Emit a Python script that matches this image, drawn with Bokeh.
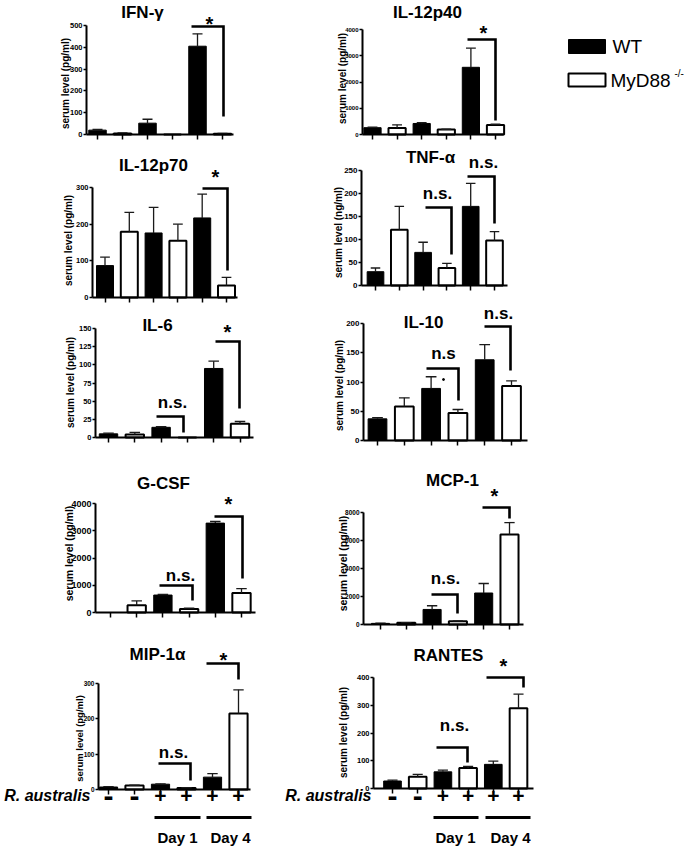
import math
from bokeh.plotting import figure
from bokeh.layouts import column, row
from bokeh.models import Range1d, LinearAxis, FixedTicker
from bokeh.core.properties import value
from bokeh.embed import file_html
from bokeh.resources import INLINE

FONT = "Liberation Sans"

# ---------------- data ----------------
groups = ["WT", "MyD88 -/-", "WT", "MyD88 -/-", "WT", "MyD88 -/-"]
r_australis = ["-", "-", "+", "+", "+", "+"]
day_labels = ["Day 1", "Day 4"]
bar_pos = [1, 2, 3, 4, 5, 6]

ifng_mean = [20, 5, 52, 0, 405, 3]
ifng_sem = [3, 2, 18, 0, 57, 2]
il12p40_mean = [260, 250, 420, 190, 2560, 360]
il12p40_sem = [20, 120, 30, 10, 730, 30]
il12p70_mean = [87, 179, 176, 155, 217, 33]
il12p70_sem = [23, 53, 70, 45, 65, 22]
tnfa_mean = [30, 121, 72, 38, 172, 98]
tnfa_sem = [8, 51, 22, 10, 50, 19]
il6_mean = [5, 4, 14, 0, 95, 19]
il6_sem = [1, 3, 1, 0, 10, 3]
il10_mean = [37, 58, 89, 47, 138, 93]
il10_sem = [2, 15, 20, 6, 26, 9]
gcsf_mean = [0, 265, 640, 130, 3280, 715]
gcsf_sem = [0, 160, 20, 30, 60, 160]
mcp1_mean = [80, 120, 1075, 235, 2250, 6420]
mcp1_sem = [10, 20, 265, 30, 680, 860]
mip1a_mean = [7, 11, 15, 4, 35, 215]
mip1a_sem = [1, 1, 1, 1, 10, 67]
rantes_mean = [27, 42, 60, 74, 87, 289]
rantes_sem = [3, 9, 6, 6, 12, 51]

# ---------------- layout (pixel positions on the page) ----------------
PANELS = [
    dict(title="IFN-γ", mean=ifng_mean, sem=ifng_sem, ymax=500, ystep=100,
         unit="serum level (pg/ml)", cell=(0, 0, 330, 140),
         axes=(86, 134, 25, 97, 25.0, 233), tfs=7.5, title_at=(142, 12),
         ylab=(65, 83, 10), marks=[("*", 209, 20, (191, 223, 26, 116))]),
    dict(title="IL-12p40", mean=il12p40_mean, sem=il12p40_sem, ymax=4000, ystep=1000,
         unit="serum level (pg/ml)", cell=(330, 0, 364, 140),
         axes=(362, 134, 29, 372, 24.6, 503), tfs=6, title_at=(427, 12),
         ylab=(342, 78, 10), marks=[("*", 483, 29, (467, 495, 39, 120))], legend=True),
    dict(title="IL-12p70", mean=il12p70_mean, sem=il12p70_sem, ymax=300, ystep=100,
         unit="serum level (pg/ml)", cell=(0, 140, 330, 163),
         axes=(92, 297, 187, 104.5, 24.3, 237), tfs=7.5, title_at=(153, 165),
         ylab=(68, 240, 10), marks=[("*", 215, 173, (202, 227, 188, 270))]),
    dict(title="TNF-α", mean=tnfa_mean, sem=tnfa_sem, ymax=250, ystep=50,
         unit="serum level (ng/ml)", cell=(330, 140, 364, 163),
         axes=(361, 285, 170, 375, 23.8, 507), tfs=8, title_at=(430, 157),
         ylab=(338, 232, 10),
         marks=[("n.s.", 483, 162, (467, 494, 176, 223)),
                ("n.s.", 437, 193, (425, 451, 207, 254))]),
    dict(title="IL-6", mean=il6_mean, sem=il6_sem, ymax=150, ystep=25,
         unit="serum level (pg/ml)", cell=(0, 303, 330, 147),
         axes=(95, 437, 328, 108, 26.3, 253), tfs=7.5, title_at=(157, 325),
         ylab=(70, 382, 10),
         marks=[("*", 227, 328, (215, 239, 341, 408)),
                ("n.s.", 172, 402, (156, 183, 416, 432))]),
    dict(title="IL-10", mean=il10_mean, sem=il10_sem, ymax=200, ystep=50,
         unit="serum level (pg/ml)", cell=(330, 303, 364, 147),
         axes=(363, 440, 323, 377, 26.8, 527), tfs=8, title_at=(423, 322),
         ylab=(339, 385, 10),
         marks=[("n.s.", 498, 313, (484, 510, 326, 370)),
                ("n.s", 443, 353, (426, 458, 368, 400))], dot=(443, 379)),
    dict(title="G-CSF", mean=gcsf_mean, sem=gcsf_sem, ymax=4000, ystep=1000,
         unit="serum level (pg/ml)", cell=(0, 450, 330, 180),
         axes=(95, 612, 503, 110, 26.2, 255), tfs=9, title_at=(163, 483),
         ylab=(68, 553, 10.5),
         marks=[("*", 228, 500, (214, 242, 516, 578)),
                ("n.s.", 180, 575, (159, 192, 585, 600))]),
    dict(title="MCP-1", mean=mcp1_mean, sem=mcp1_sem, ymax=8000, ystep=2000,
         unit="serum level (pg/ml)", cell=(330, 450, 364, 180),
         axes=(363, 624, 512, 380, 25.8, 523), tfs=6.5, title_at=(452, 480),
         ylab=(342, 563, 10.5),
         marks=[("*", 494, 492, (482, 509, 507, 518)),
                ("n.s.", 445, 578, (431, 457, 594, 613))]),
    dict(title="MIP-1α", mean=mip1a_mean, sem=mip1a_sem, ymax=300, ystep=100,
         unit="serum level (pg/ml)", cell=(0, 630, 272, 216),
         axes=(98, 789, 683, 108, 26.0, 250), tfs=6.5, title_at=(157, 654),
         ylab=(79, 738, 9.5),
         marks=[("*", 223, 656, (206, 238, 663, 679)),
                ("n.s.", 173, 752, (158, 190, 763, 780))],
         bottom=dict(label_at=(90, 795), sign_y=795, line_y=817,
                     lines=[(154, 200), (206, 251)], day_y=837, day_x=[177, 230])),
    dict(title="RANTES", mean=rantes_mean, sem=rantes_sem, ymax=400, ystep=100,
         unit="serum level (pg/ml)", cell=(272, 630, 422, 216),
         axes=(373, 788, 677, 392, 25.2, 533), tfs=7.5, title_at=(448, 655),
         ylab=(343, 732, 10),
         marks=[("*", 503, 662, (486, 523, 677, 687)),
                ("n.s.", 454, 725, (436, 467, 747, 762))],
         bottom=dict(label_at=(371, 795), sign_y=795, line_y=817,
                     lines=[(433, 478), (485, 530)], day_y=837, day_x=[455, 510])),
]


def txt(p, xs, ys, texts, size, style="bold", align="center", angle=0.0):
    p.text(x=xs, y=ys, text=texts, text_font=value(FONT), text_font_style=style,
           text_font_size=size, text_align=align, text_baseline="middle",
           text_color="black", angle=angle)


def style_axis(ax):
    ax.axis_line_width = 2
    ax.axis_line_color = "black"
    ax.major_tick_line_width = 1.5
    ax.major_tick_line_color = "black"
    ax.major_tick_in = 0
    ax.minor_tick_line_color = None
    ax.major_label_text_color = "black"
    ax.major_label_text_font = FONT
    ax.major_label_text_font_style = "bold"


def build(d):
    cx, cy, W, H = d["cell"]
    xa, y0, ytop, c1, s, xend = d["axes"]
    k = (y0 - ytop) / d["ymax"]

    def X(px):
        return 1 + (px - c1) / s

    def Y(py):
        return (y0 - py) / k

    p = figure(width=W, height=H, x_range=Range1d(X(cx), X(cx + W)),
               y_range=Range1d(Y(cy + H), Y(cy)), x_axis_type=None, y_axis_type=None,
               output_backend="svg", toolbar_location=None, min_border=0)
    p.outline_line_color = None
    p.background_fill_color = "white"
    p.border_fill_color = "white"

    mean, sem = d["mean"], d["sem"]
    wt = [i for i, g in enumerate(groups) if g == "WT"]
    ko = [i for i, g in enumerate(groups) if g != "WT"]
    p.vbar(x=[bar_pos[i] for i in wt], top=[mean[i] for i in wt], bottom=0, width=0.7,
           fill_color="black", line_color="black", line_width=1)
    p.vbar(x=[bar_pos[i] for i in ko], top=[mean[i] for i in ko], bottom=0, width=0.7,
           fill_color="white", line_color="black", line_width=2)
    idx = [i for i in range(6) if sem[i] > 0]
    ex = [bar_pos[i] for i in idx]
    etop = [mean[i] + sem[i] for i in idx]
    p.segment(x0=ex, y0=[mean[i] for i in idx], x1=ex, y1=etop,
              line_color="#1a1a1a", line_width=1.3)
    p.segment(x0=[x - 0.2 for x in ex], y0=etop, x1=[x + 0.2 for x in ex], y1=etop,
              line_color="#1a1a1a", line_width=1.3)

    # axes
    yax = LinearAxis(fixed_location=X(xa), bounds=(0, d["ymax"]),
                     ticker=FixedTicker(ticks=list(range(0, d["ymax"] + 1, d["ystep"]))))
    style_axis(yax)
    yax.major_tick_out = 3
    yax.major_label_text_font_size = f"{d['tfs']}px"
    yax.major_label_standoff = 1
    p.add_layout(yax, "left")

    xax = LinearAxis(fixed_location=0, bounds=(X(xa), X(xend)),
                     ticker=FixedTicker(ticks=bar_pos),
                     major_label_overrides={b: "" for b in bar_pos})
    style_axis(xax)
    xax.major_tick_out = 5
    xax.major_label_text_font_size = "1px"
    p.add_layout(xax, "below")

    # y-axis title
    lx, ly, lfs = d["ylab"]
    txt(p, [X(lx)], [Y(ly)], [d["unit"]], f"{lfs}px", angle=math.pi / 2)

    # panel title
    tx, ty = d["title_at"]
    txt(p, [X(tx)], [Y(ty)], [d["title"]], "17px")

    # significance brackets
    for label, mx, my, (xl, xr, yt, yb) in d["marks"]:
        p.line(x=[X(xl), X(xr), X(xr)], y=[Y(yt), Y(yt), Y(yb)], line_color="black",
               line_width=2.6, line_join="miter")
        if label == "*":
            txt(p, [X(mx)], [Y(my + 3)], [label], "20px")
        else:
            txt(p, [X(mx)], [Y(my)], [label], "17px")
    if "dot" in d:
        dx, dy = d["dot"]
        p.scatter(x=[X(dx)], y=[Y(dy)], size=2, color="black")

    if d.get("legend"):
        p.quad(left=[X(568)], right=[X(605)], top=[Y(39)], bottom=[Y(53)],
               fill_color="black", line_color="black", line_width=1)
        p.quad(left=[X(568)], right=[X(605)], top=[Y(73)], bottom=[Y(86)],
               fill_color="white", line_color="black", line_width=2)
        txt(p, [X(612)], [Y(46)], ["WT"], "19px", style="normal", align="left")
        txt(p, [X(610)], [Y(80)], ["MyD88"], "19px", style="normal", align="left")
        txt(p, [X(674)], [Y(73)], ["-/-"], "10px", style="normal", align="left")

    if "bottom" in d:
        b = d["bottom"]
        lx, ly = b["label_at"]
        txt(p, [X(lx)], [Y(ly)], ["R. australis"], "16px", style="bold italic", align="right")
        sizes = ["30px" if sgn == "-" else "21px" for sgn in r_australis]
        p.text(x=bar_pos, y=[Y(b["sign_y"])] * 6, text=r_australis, text_font=value(FONT),
               text_font_style="bold", text_font_size=sizes, text_align="center",
               text_baseline="middle", text_color="black")
        for (l0, l1) in b["lines"]:
            p.line(x=[X(l0), X(l1)], y=[Y(b["line_y"])] * 2, line_color="black", line_width=3)
        txt(p, [X(v) for v in b["day_x"]], [Y(b["day_y"])] * 2, day_labels, "15px")

    return p


figs = [build(d) for d in PANELS]
layout = column(
    row(figs[0], figs[1]),
    row(figs[2], figs[3]),
    row(figs[4], figs[5]),
    row(figs[6], figs[7]),
    row(figs[8], figs[9]),
)

open("out.html", "w").write(file_html(layout, INLINE))
